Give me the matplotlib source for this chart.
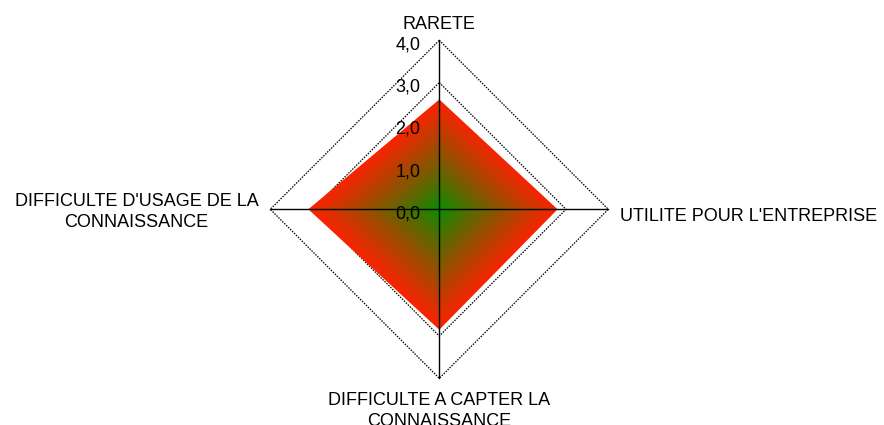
import numpy as np
import matplotlib
matplotlib.use("Agg")
import matplotlib.pyplot as plt
from matplotlib.patches import Polygon

plt.rcParams["font.family"] = ["Liberation Sans", "DejaVu Sans"]

# Radar data: axes go clockwise starting at the top
categories = [
    "RARETE",
    "UTILITE POUR L'ENTREPRISE",
    "DIFFICULTE A CAPTER LA\nCONNAISSANCE",
    "DIFFICULTE D'USAGE DE LA\nCONNAISSANCE",
]
values = [2.6, 2.8, 2.85, 3.1]
tick_values = [0.0, 1.0, 2.0, 3.0, 4.0]
tick_labels = ["0,0", "1,0", "2,0", "3,0", "4,0"]
grid_levels = [1.0, 2.0, 3.0, 4.0]
r_max = 4.0

W, H, DPI = 884, 425, 100
cx_px, cy_px = 439.3, 209.3      # chart centre in pixels (from top-left)
unit_px = 42.25                  # pixels per value unit

fig = plt.figure(figsize=(W / DPI, H / DPI), dpi=DPI)
ax = fig.add_axes([0, 0, 1, 1])
ax.set_xlim(-cx_px / unit_px, (W - cx_px) / unit_px)
ax.set_ylim(-(H - cy_px) / unit_px, cy_px / unit_px)
ax.set_aspect("equal")
ax.axis("off")

n = len(categories)
angles = np.arange(n) * 2 * np.pi / n          # clockwise from the top
dirx, diry = np.sin(angles), np.cos(angles)


def px(v):
    return v / unit_px


# diamond grid
for lv in grid_levels:
    gx = np.append(lv * dirx, lv * dirx[0])
    gy = np.append(lv * diry, lv * diry[0])
    ax.plot(gx, gy, color="black", lw=0.9, ls=(0, (1.2, 1.0)), zorder=1)

# filled data polygon with a centre-to-edge gradient (green -> red)
vals = np.array(values)
poly_xy = np.column_stack([vals * dirx, vals * diry])
poly = Polygon(poly_xy, closed=True, facecolor="none", edgecolor="none")
ax.add_patch(poly)

top, right, bottom, left = values
ext = max(values) * 1.05
N = 900
xs = np.linspace(-ext, ext, N)
ys = np.linspace(ext, -ext, N)
X, Y = np.meshgrid(xs, ys)
bx = np.where(X >= 0, right, left)
by = np.where(Y >= 0, top, bottom)
t = np.clip(np.abs(X) / bx + np.abs(Y) / by, 0, 1) ** 0.85
t = t[..., None]
c_center = np.array([0, 145, 0]) / 255
c_edge = np.array([250, 35, 0]) / 255
img = c_center * (1 - t) + c_edge * t
im = ax.imshow(img, extent=[-ext, ext, -ext, ext], interpolation="bilinear",
               zorder=2, origin="upper")
im.set_clip_path(poly)

# axis spokes
for dx, dy in zip(dirx, diry):
    ax.plot([0, r_max * dx], [0, r_max * dy], color="black", lw=1.0, zorder=3)

# value labels along the top spoke
for tv, tl in zip(tick_values, tick_labels):
    ax.text(px(-18.8), tv - px(9.0), tl, ha="right", va="baseline",
            fontsize=13, color="black", zorder=4)

# category labels
fs = 13
line_gap = px(21.0)
# RARETE (top)
ax.text(0.0, px(cy_px - 29.3), categories[0], ha="center", va="baseline",
        fontsize=fs, color="black")
# UTILITE (right)
ax.text(px(620 - cx_px), px(cy_px - 221.0), categories[1], ha="left",
        va="baseline", fontsize=fs, color="black")
# DIFFICULTE A CAPTER (bottom)
for i, line in enumerate(categories[2].split("\n")):
    ax.text(0.0, px(cy_px - 405.0) - i * line_gap, line, ha="center",
            va="baseline", fontsize=fs, color="black")
# DIFFICULTE D'USAGE (left)
for i, line in enumerate(categories[3].split("\n")):
    ax.text(px(136.5 - cx_px), px(cy_px - 205.7) - i * line_gap, line,
            ha="center", va="baseline", fontsize=fs, color="black")

fig.savefig("out.png", dpi=DPI)
